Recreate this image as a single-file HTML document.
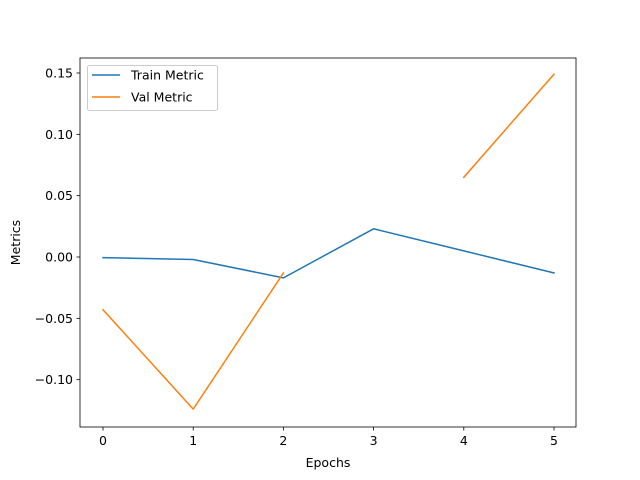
<!DOCTYPE html>
<html><head><meta charset="utf-8"><style>
body{margin:0;background:#fff}
svg{display:block;font-family:"DejaVu Sans","Liberation Sans",sans-serif}
</style></head><body>
<svg id="chart" width="640" height="480" viewBox="0 0 640 480">
<rect width="640" height="480" fill="#fff"/>
</svg>
<script>
const epochs=[0,1,2,3,4,5];
const trainMetric=[-0.0005,-0.002,-0.017,0.023,0.005,-0.013];
const valMetric=[-0.043,-0.124,-0.013,null,0.065,0.149];
const yTicks=[-0.10,-0.05,0.00,0.05,0.10,0.15];
const yTickLabels=["−0.10","−0.05","0.00","0.05","0.10","0.15"];
const xTicks=[0,1,2,3,4,5];

const L=80,R=576,T=58,B=427;
const X=v=>103+v*(554-103)/5;
const Y=v=>257-v*1226.7;
const svg=document.getElementById('chart');
const NS='http://www.w3.org/2000/svg';
const FS=12.5;
function mk(tag,attrs,parent){const e=document.createElementNS(NS,tag);for(const k in attrs)e.setAttribute(k,attrs[k]);(parent||svg).appendChild(e);return e;}

const frame=mk('rect',{x:L,y:T,width:R-L,height:B-T,fill:'none',stroke:'#000','stroke-width':0.8});



xTicks.forEach(t=>{
  const g=mk('g',{});
  
  
  mk('line',{x1:X(t),x2:X(t),y1:B,y2:B+3.5,stroke:'#000','stroke-width':0.8},g);
  const tx=mk('text',{x:X(t),y:B+18,'font-size':FS,'text-anchor':'middle'},g);tx.textContent=t;
});
yTicks.forEach((t,i)=>{
  const g=mk('g',{});
  
  
  mk('line',{x1:L-3.5,x2:L,y1:Y(t),y2:Y(t),stroke:'#000','stroke-width':0.8},g);
  const tx=mk('text',{x:L-7,y:Y(t)+4.5,'font-size':FS,'text-anchor':'end'},g);tx.textContent=yTickLabels[i];
});
const xl=mk('text',{x:(L+R)/2,y:467,'font-size':FS,'text-anchor':'middle'});xl.textContent='Epochs';


const yl=mk('text',{x:0,y:0,'font-size':FS,'text-anchor':'middle',transform:`translate(20,${(T+B)/2}) rotate(-90)`});yl.textContent='Metrics';



function series(vals,color,name){
  let d='',pen=false;
  vals.forEach((v,i)=>{if(v===null){pen=false;return;}d+=(pen?'L':'M')+X(epochs[i])+' '+Y(v)+' ';pen=true;});
  const p=mk('path',{d,fill:'none',stroke:color,'stroke-width':1.5,'stroke-linejoin':'round','stroke-linecap':'square'});
  
  
}
series(trainMetric,'#1f77b4','train-metric-line');
series(valMetric,'#ff7f0e','val-metric-line');

const lg=mk('g',{});


mk('rect',{x:87.5,y:65.5,width:130,height:45,rx:2,fill:'#fff',stroke:'#ccc','stroke-width':1},lg);
[['Train Metric','#1f77b4',75],['Val Metric','#ff7f0e',97]].forEach(([n,c,y])=>{
  const e=mk('g',{},lg);
  
  
  mk('line',{x1:92,x2:120,y1:y,y2:y,stroke:c,'stroke-width':1.5},e);
  const t=mk('text',{x:131,y:y+4.5,'font-size':FS},e);t.textContent=n;
});
</script>
</body></html>
